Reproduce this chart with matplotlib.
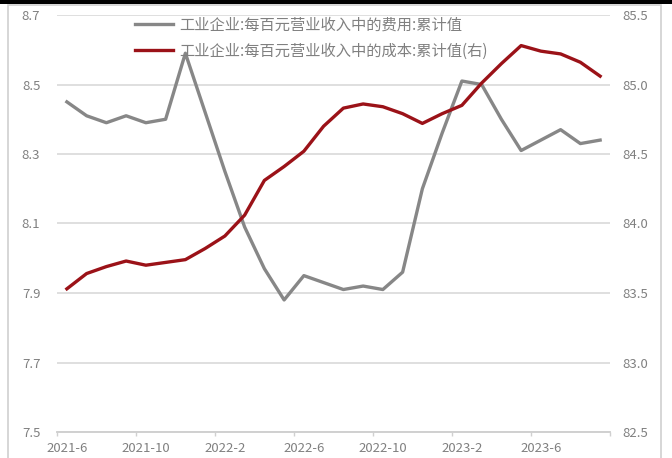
import matplotlib
matplotlib.use('Agg')
import matplotlib.pyplot as plt
from matplotlib.patches import Rectangle
import numpy as np

plt.rcParams['font.family'] = ['Noto Sans CJK SC', 'DejaVu Sans']

# monthly, 2021-6 .. 2023-9
months = ['2021-6', '2021-7', '2021-8', '2021-9', '2021-10', '2021-11', '2021-12',
          '2022-1', '2022-2', '2022-3', '2022-4', '2022-5', '2022-6', '2022-7',
          '2022-8', '2022-9', '2022-10', '2022-11', '2022-12', '2023-1', '2023-2',
          '2023-3', '2023-4', '2023-5', '2023-6', '2023-7', '2023-8', '2023-9']
tick_labels = ['2021-6', '2021-10', '2022-2', '2022-6', '2022-10', '2023-2', '2023-6']

# 每百元营业收入中的费用 (left axis)
expense = [8.45, 8.41, 8.39, 8.41, 8.39, 8.40, 8.59,
           8.42, 8.25, 8.09, 7.97, 7.88, 7.95, 7.93,
           7.91, 7.92, 7.91, 7.96, 8.20, 8.36, 8.51,
           8.50, 8.40, 8.31, 8.34, 8.37, 8.33, 8.34]
# 每百元营业收入中的成本 (right axis)
cost = [83.53, 83.64, 83.69, 83.73, 83.70, 83.72, 83.74,
        83.82, 83.91, 84.06, 84.31, 84.41, 84.52, 84.70,
        84.83, 84.86, 84.84, 84.79, 84.72, 84.79, 84.85,
        85.01, 85.15, 85.28, 85.24, 85.22, 85.16, 85.06]

label_expense = '工业企业:每百元营业收入中的费用:累计值'
label_cost = '工业企业:每百元营业收入中的成本:累计值(右)'

W, H = 672, 458
fig = plt.figure(figsize=(W / 100, H / 100), dpi=100)
ax = fig.add_axes([57 / W, 1 - 432 / H, (610 - 57) / W, (432 - 15) / H])
ax2 = ax.twinx()

# screenshot frame
fig.patches.append(Rectangle((0, 1 - 4 / H), 1, 4 / H, transform=fig.transFigure,
                             facecolor='black', edgecolor='none'))
fig.patches.append(Rectangle((8 / W, -0.01), (661 - 8) / W, 1 - 5 / H + 0.01,
                             transform=fig.transFigure, facecolor='none',
                             edgecolor='#d0d0d0', linewidth=1.2))

x = np.arange(len(months))
grey = '#878787'
red = '#9b1218'
txt = '#808080'

ax.plot(x, expense, color=grey, lw=2.4, label=label_expense, zorder=3)
ax2.plot(x, cost, color=red, lw=2.4, label=label_cost, zorder=3)

ax.set_xlim(-0.5, len(months) - 0.5)
ax.set_ylim(7.5, 8.7)
ax.set_yticks(np.arange(7.5, 8.71, 0.2))
ax.set_yticklabels([f'{v:.1f}' for v in np.arange(7.5, 8.71, 0.2)])
ax2.set_ylim(82.5, 85.5)
ax2.set_yticks(np.arange(82.5, 85.51, 0.5))
ax2.set_yticklabels([f'{v:.1f}' for v in np.arange(82.5, 85.51, 0.5)])

ax.set_xticks(x[::4])
ax.set_xticklabels(tick_labels)
ax.set_xticks(np.arange(-0.5, len(months), 4), minor=True)

ax.grid(axis='y', color='#d9d9d9', lw=1.2)
ax.set_axisbelow(True)
for a in (ax, ax2):
    for s in ['top', 'left', 'right']:
        a.spines[s].set_visible(False)
    a.spines['bottom'].set_color('#d0d0d0')
    a.spines['bottom'].set_linewidth(1.2)

ax.tick_params(axis='y', length=0, pad=12, labelsize=9.5, labelcolor=txt)
ax2.tick_params(axis='y', length=0, pad=9, labelsize=9.5, labelcolor=txt)
ax.tick_params(axis='x', which='major', length=0, pad=7, labelsize=9.5, labelcolor=txt)
ax.tick_params(axis='x', which='minor', length=3, color='#d0d0d0', width=1)

h1, l1 = ax.get_legend_handles_labels()
h2, l2 = ax2.get_legend_handles_labels()
leg = fig.legend(h1 + h2, l1 + l2, loc='upper left',
                 bbox_to_anchor=(127 / W, 1 - 9 / H), frameon=False,
                 borderpad=0, handlelength=2.5, handletextpad=0.45,
                 labelspacing=0.6, fontsize=11)
for t in leg.get_texts():
    t.set_color(txt)

fig.savefig('out.png', dpi=100)
